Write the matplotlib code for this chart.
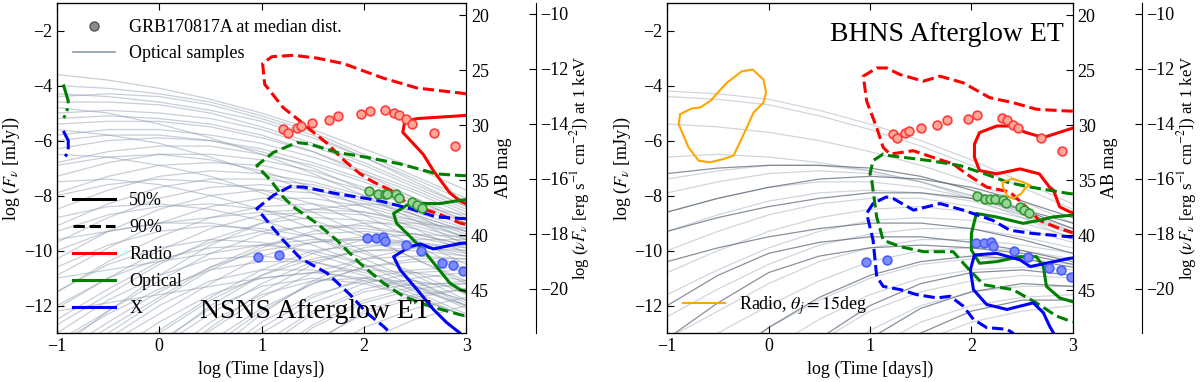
import numpy as np
import matplotlib
matplotlib.use("Agg")
import matplotlib.pyplot as plt
from matplotlib.lines import Line2D

plt.rcParams['font.family'] = 'serif'
plt.rcParams['font.serif'] = ['Liberation Serif', 'DejaVu Serif']
plt.rcParams['mathtext.fontset'] = 'stix'
plt.rcParams['font.size'] = 13

# time grid of the sample light curves, log days
t_grid = [-1, -0.5, 0, 0.5, 1, 1.5, 2, 2.5, 3]

# optical sample light curves, NSNS panel (log F_nu at t_grid)
nsns_samples = [
    [-3.6, -3.8, -4.1, -4.5, -5.0, -5.6, -6.3, -7.0, -7.8],
    [-4.0, -4.1, -4.3, -4.6, -5.1, -5.7, -6.5, -7.3, -8.1],
    [-4.3, -4.4, -4.6, -4.9, -5.3, -5.9, -6.6, -7.4, -8.2],
    [-4.6, -4.6, -4.7, -5.0, -5.5, -6.1, -6.8, -7.6, -8.4],
    [-5.0, -4.9, -5.0, -5.2, -5.6, -6.2, -6.9, -7.7, -8.5],
    [-5.4, -5.3, -5.3, -5.5, -5.9, -6.4, -7.1, -7.8, -8.6],
    [-5.8, -5.6, -5.6, -5.8, -6.1, -6.6, -7.2, -7.9, -8.7],
    [-6.3, -6.0, -5.9, -6.0, -6.3, -6.8, -7.4, -8.1, -8.8],
    [-6.8, -6.4, -6.2, -6.2, -6.5, -6.9, -7.5, -8.2, -8.9],
    [-7.3, -6.8, -6.5, -6.5, -6.7, -7.1, -7.7, -8.3, -9.0],
    [-7.9, -7.3, -6.9, -6.8, -6.9, -7.3, -7.8, -8.4, -9.1],
    [-8.5, -7.8, -7.3, -7.1, -7.2, -7.5, -8.0, -8.6, -9.2],
    [-9.1, -8.3, -7.7, -7.4, -7.4, -7.6, -8.1, -8.7, -9.3],
    [-9.7, -8.8, -8.1, -7.7, -7.6, -7.8, -8.2, -8.7, -9.3],
    [-10.3, -9.3, -8.5, -8.0, -7.8, -7.9, -8.3, -8.8, -9.4],
    [-10.9, -9.9, -9.0, -8.4, -8.1, -8.1, -8.4, -8.9, -9.5],
    [-11.5, -10.4, -9.5, -8.8, -8.4, -8.3, -8.6, -9.0, -9.5],
    [-12.1, -11.0, -10.0, -9.2, -8.7, -8.6, -8.7, -9.1, -9.6],
    [-12.7, -11.6, -10.5, -9.6, -9.0, -8.8, -8.9, -9.2, -9.7],
    [-13.3, -12.2, -11.1, -10.1, -9.4, -9.1, -9.1, -9.4, -9.8],
    [-14.0, -12.8, -11.7, -10.6, -9.8, -9.4, -9.3, -9.5, -9.9],
    [-14.6, -13.4, -12.3, -11.2, -10.2, -9.7, -9.5, -9.7, -10.0],
    [-15.0, -14.0, -12.9, -11.7, -10.7, -10.0, -9.8, -9.8, -10.1],
    [-15.0, -14.6, -13.5, -12.3, -11.2, -10.4, -10.0, -10.0, -10.2],
    [-15.0, -15.0, -14.1, -12.9, -11.7, -10.8, -10.3, -10.2, -10.3],
    [-15.0, -15.0, -14.7, -13.5, -12.2, -11.2, -10.6, -10.4, -10.4],
    [-15.0, -15.0, -15.0, -14.1, -12.8, -11.7, -11.0, -10.7, -10.6],
    [-15.0, -15.0, -15.0, -14.7, -13.4, -12.2, -11.4, -11.0, -10.8],
    [-15.0, -15.0, -15.0, -15.0, -14.0, -12.7, -11.8, -11.3, -11.1],
    [-15.0, -15.0, -15.0, -15.0, -14.6, -13.3, -12.3, -11.7, -11.4],
    [-15.0, -15.0, -15.0, -15.0, -15.0, -13.9, -12.8, -12.1, -11.7],
    [-15.0, -15.0, -15.0, -15.0, -15.0, -14.5, -13.3, -12.5, -12.0],
    [-4.8, -5.0, -5.4, -5.9, -6.5, -7.2, -8.0, -8.9, -9.8],
    [-5.6, -5.8, -6.1, -6.6, -7.2, -7.9, -8.7, -9.6, -10.5],
    [-6.5, -6.6, -6.9, -7.3, -7.9, -8.6, -9.4, -10.3, -11.2],
    [-7.5, -7.4, -7.6, -8.0, -8.5, -9.2, -10.0, -10.9, -11.8],
    [-8.8, -8.4, -8.3, -8.5, -8.9, -9.5, -10.3, -11.1, -12.0],
    [-10.0, -9.3, -9.0, -9.0, -9.3, -9.8, -10.5, -11.3, -12.1],
    [-11.5, -10.5, -9.9, -9.6, -9.7, -10.1, -10.7, -11.5, -12.3],
    [-13.0, -11.8, -10.9, -10.3, -10.2, -10.4, -10.9, -11.6, -12.4],
    [-14.5, -13.2, -12.0, -11.1, -10.7, -10.7, -11.1, -11.7, -12.4],
    [-15.0, -14.6, -13.3, -12.1, -11.3, -11.0, -11.2, -11.7, -12.4],
    [-12.2, -11.9, -11.6, -11.3, -11.0, -10.8, -10.7, -10.8, -11.1],
    [-11.0, -10.7, -10.4, -10.1, -9.8, -9.6, -9.6, -9.8, -10.2],
    [-9.6, -9.3, -9.0, -8.8, -8.6, -8.5, -8.6, -8.9, -9.3],
    [-15.0, -15.0, -15.0, -13.8, -12.3, -11.1, -10.3, -9.9, -9.8],
    [-15.0, -15.0, -14.2, -12.8, -11.5, -10.5, -9.9, -9.6, -9.6],
    [-15.0, -14.8, -13.4, -12.0, -10.9, -10.1, -9.6, -9.4, -9.5],
    [-14.3, -13.0, -11.8, -10.7, -9.9, -9.3, -9.0, -9.0, -9.2],
    [-13.6, -12.2, -10.9, -9.8, -9.0, -8.5, -8.3, -8.4, -8.7],
    [-4.4, -4.3, -4.4, -4.7, -5.2, -5.8, -6.6, -7.5, -8.4],
    [-5.2, -5.1, -5.2, -5.4, -5.8, -6.4, -7.2, -8.1, -9.0],
    [-6.0, -5.8, -5.8, -6.0, -6.4, -7.0, -7.8, -8.7, -9.6],
    [-6.9, -6.6, -6.5, -6.7, -7.1, -7.7, -8.4, -9.2, -10.1],
    [-8.0, -7.6, -7.4, -7.5, -7.8, -8.3, -9.0, -9.8, -10.7],
    [-9.3, -8.7, -8.4, -8.3, -8.5, -8.9, -9.5, -10.3, -11.1],
    [-10.6, -9.8, -9.3, -9.1, -9.2, -9.5, -10.1, -10.8, -11.6],
    [-12.0, -11.0, -10.3, -9.9, -9.8, -10.0, -10.5, -11.1, -11.9],
    [-13.4, -12.3, -11.4, -10.7, -10.4, -10.4, -10.8, -11.3, -12.0],
    [-15.0, -13.8, -12.6, -11.6, -11.0, -10.8, -11.0, -11.4, -12.0],
    [-15.0, -15.0, -14.0, -12.6, -11.6, -11.1, -11.0, -11.3, -11.8],
    [-15.0, -15.0, -15.0, -14.0, -12.6, -11.6, -11.1, -11.1, -11.4],
    [-15.0, -15.0, -15.0, -15.0, -13.6, -12.3, -11.5, -11.2, -11.2],
    [-15.0, -15.0, -15.0, -15.0, -15.0, -13.4, -12.2, -11.6, -11.4],
    [-15.0, -15.0, -15.0, -15.0, -14.2, -12.8, -11.9, -11.4, -11.2],
    [-15.0, -15.0, -15.0, -14.4, -13.0, -11.9, -11.2, -10.8, -10.7],
    [-15.0, -15.0, -14.8, -13.3, -12.1, -11.2, -10.6, -10.3, -10.3],
    [-15.0, -14.4, -13.0, -11.8, -10.9, -10.3, -10.0, -9.9, -10.0],
    [-13.8, -12.6, -11.5, -10.6, -10.0, -9.7, -9.6, -9.7, -9.9],
    [-12.5, -11.4, -10.4, -9.7, -9.3, -9.1, -9.2, -9.4, -9.8],
]

# optical sample light curves, BHNS panel
bhns_samples_light = [
    [-4.2, -4.3, -4.5, -4.9, -5.4, -6.0, -6.7, -7.5, -8.3],
    [-4.4, -4.5, -4.7, -5.1, -5.6, -6.2, -6.9, -7.7, -8.5],
    [-5.4, -5.5, -5.7, -6.0, -6.4, -6.9, -7.5, -8.2, -9.0],
    [-6.6, -6.5, -6.6, -6.8, -7.1, -7.5, -8.1, -8.8, -9.6],
    [-7.4, -7.1, -6.9, -6.9, -7.1, -7.5, -8.0, -8.7, -9.4],
    [-7.9, -7.5, -7.2, -7.1, -7.2, -7.5, -8.0, -8.6, -9.3],
    [-8.6, -8.1, -7.7, -7.5, -7.5, -7.7, -8.1, -8.6, -9.2],
    [-9.3, -8.7, -8.2, -7.9, -7.8, -7.9, -8.2, -8.7, -9.3],
    [-10.0, -9.3, -8.7, -8.3, -8.1, -8.1, -8.4, -8.8, -9.4],
    [-10.8, -10.0, -9.3, -8.8, -8.5, -8.4, -8.6, -9.0, -9.5],
    [-11.6, -10.7, -9.9, -9.3, -8.9, -8.8, -8.9, -9.2, -9.7],
    [-12.4, -11.4, -10.5, -9.8, -9.4, -9.2, -9.2, -9.5, -9.9],
    [-13.2, -12.2, -11.2, -10.4, -9.9, -9.6, -9.6, -9.8, -10.1],
    [-14.0, -13.0, -12.0, -11.1, -10.4, -10.0, -9.9, -10.0, -10.3],
    [-15.0, -13.9, -12.8, -11.8, -11.0, -10.5, -10.3, -10.3, -10.5],
    [-15.0, -14.8, -13.6, -12.5, -11.6, -11.0, -10.7, -10.6, -10.7],
    [-15.0, -15.0, -14.5, -13.3, -12.2, -11.5, -11.1, -10.9, -11.0],
    [-15.0, -15.0, -15.0, -14.1, -12.9, -12.0, -11.5, -11.3, -11.3],
    [-15.0, -15.0, -15.0, -15.0, -13.6, -12.6, -12.0, -11.7, -11.6],
    [-15.0, -15.0, -15.0, -15.0, -14.4, -13.3, -12.6, -12.2, -12.0],
]
bhns_samples_dark = [
    [-12.0, -10.9, -10.1, -9.7, -9.5, -9.5, -9.7, -10.0, -10.4],
    [-13.2, -11.9, -10.8, -10.2, -9.9, -9.8, -9.9, -10.1, -10.5],
    [-9.3, -8.8, -8.4, -8.1, -7.9, -7.9, -8.1, -8.5, -9.0],
    [-8.6, -8.1, -7.7, -7.4, -7.3, -7.4, -7.7, -8.2, -8.8],
    [-15.0, -14.2, -12.8, -11.7, -10.9, -10.4, -10.2, -10.3, -10.6],
    [-15.0, -15.0, -14.5, -13.2, -12.0, -11.2, -10.8, -10.7, -10.9],
    [-15.0, -15.0, -15.0, -14.6, -13.2, -12.1, -11.5, -11.2, -11.3],
    [-10.4, -9.9, -9.5, -9.2, -9.0, -9.0, -9.2, -9.6, -10.1],
    [-15.0, -15.0, -15.0, -15.0, -14.3, -13.0, -12.2, -11.8, -11.8],
    [-7.2, -7.0, -6.9, -6.9, -7.0, -7.3, -7.8, -8.5, -9.2],
]

# GRB170817A at median distance, NSNS panel
nsns_radio_t = [1.207, 1.256, 1.344, 1.386, 1.49, 1.66, 1.75, 1.97, 2.06, 2.21, 2.29, 2.34, 2.41, 2.47, 2.69, 2.89]
nsns_radio_f = [-5.59, -5.71, -5.53, -5.48, -5.35, -5.25, -5.10, -5.04, -4.92, -4.90, -5.01, -5.07, -5.22, -5.38, -5.71, -6.19]
nsns_opt_t = [2.045, 2.135, 2.21, 2.23, 2.315, 2.34, 2.47, 2.52, 2.57]
nsns_opt_f = [-7.84, -7.96, -7.93, -7.96, -7.96, -8.08, -8.23, -8.35, -8.44]
nsns_x_t = [0.96, 1.17, 2.035, 2.12, 2.19, 2.21, 2.41, 2.56, 2.76, 2.87, 2.97]
nsns_x_f = [-10.22, -10.17, -9.56, -9.56, -9.52, -9.65, -9.80, -10.01, -10.46, -10.54, -10.76]

# GRB170817A at median distance, BHNS panel
bhns_radio_t = [1.23, 1.263, 1.345, 1.387, 1.50, 1.663, 1.756, 1.969, 2.057, 2.297, 2.347, 2.41, 2.46, 2.69, 2.89]
bhns_radio_f = [-5.77, -5.89, -5.71, -5.65, -5.53, -5.43, -5.26, -5.22, -5.07, -5.19, -5.26, -5.43, -5.55, -5.89, -6.37]
bhns_opt_t = [2.051, 2.133, 2.18, 2.23, 2.31, 2.34, 2.48, 2.52, 2.57]
bhns_opt_f = [-8.03, -8.14, -8.11, -8.14, -8.17, -8.27, -8.41, -8.53, -8.63]
bhns_x_t = [0.96, 1.165, 2.044, 2.126, 2.19, 2.216, 2.42, 2.56, 2.77, 2.88, 2.98]
bhns_x_f = [-10.40, -10.34, -9.74, -9.71, -9.70, -9.82, -10.0, -10.22, -10.64, -10.72, -10.96]

# credible contours, NSNS panel: (t, F) pairs
nsns_radio90 = [[3.0, -4.3], [2.94, -4.27], [2.52, -4.09], [2.19, -3.73], [1.8, -3.2], [1.54, -3.0], [1.31, -2.9],
                [1.1, -2.95], [1.01, -3.2], [1.03, -3.95], [1.21, -4.8], [1.38, -5.3], [1.44, -5.5], [1.64, -6.1],
                [1.80, -6.7], [1.96, -7.2], [2.09, -7.5], [2.26, -7.8], [2.45, -8.35], [2.72, -8.65], [2.94, -9.0],
                [3.0, -9.05]]
nsns_radio50 = [[3.0, -5.08], [2.94, -5.1], [2.52, -5.2], [2.40, -5.3], [2.38, -5.7], [2.48, -6.1], [2.58, -6.5],
                [2.68, -7.1], [2.75, -7.45], [2.84, -7.9], [2.94, -8.2], [3.0, -8.3]]
nsns_opt90 = [[3.0, -7.28], [2.94, -7.27], [2.71, -7.21], [2.355, -6.85], [2.03, -6.61], [1.735, -6.43],
              [1.474, -6.13], [1.344, -6.07], [1.116, -6.43], [0.953, -6.91], [1.1, -7.5], [1.21, -8.05],
              [1.31, -8.41], [1.54, -9.01], [1.735, -9.62], [1.96, -10.46], [2.19, -11.18], [2.385, -11.66],
              [2.65, -12.03], [2.94, -12.33], [3.0, -12.38]]
nsns_opt50 = [[3.0, -8.15], [2.94, -8.17], [2.745, -8.29], [2.58, -8.29], [2.42, -8.35], [2.29, -8.65],
              [2.32, -9.01], [2.42, -9.37], [2.58, -9.98], [2.71, -10.58], [2.84, -11.18], [2.94, -11.42],
              [3.0, -11.5]]
nsns_x90 = [[3.0, -8.84], [2.94, -8.83], [2.71, -8.78], [2.45, -8.47], [2.13, -8.17], [1.735, -7.93],
            [1.41, -7.69], [1.28, -7.67], [1.116, -7.99], [0.953, -8.47], [1.21, -9.62], [1.38, -10.28],
            [1.64, -10.82], [1.865, -11.6], [2.03, -12.27], [2.19, -12.75], [2.26, -13.0], [2.3, -13.2]]
nsns_x50 = [[3.0, -9.72], [2.94, -9.74], [2.68, -9.94], [2.55, -9.76], [2.45, -9.86], [2.29, -10.22],
            [2.355, -10.7], [2.52, -11.42], [2.68, -12.14], [2.81, -12.62], [2.94, -13.0], [2.97, -13.2]]
nsns_opt_edge = [[-0.938, -3.96], [-0.89, -4.56], [-0.906, -5.04], [-0.938, -5.17]]
nsns_x_edge = [[-0.938, -5.65], [-0.89, -6.0], [-0.89, -6.37], [-0.938, -6.73]]

# credible contours, BHNS panel
bhns_radio90 = [[3.0, -4.93], [2.92, -4.92], [2.64, -4.86], [2.41, -4.62], [2.18, -4.44], [1.92, -3.90],
                [1.69, -3.66], [1.526, -3.84], [1.296, -3.60], [1.164, -3.36], [1.066, -3.36], [0.934, -3.66],
                [0.967, -4.56], [1.066, -5.53], [1.13, -6.25], [1.197, -6.49], [1.426, -6.37], [1.62, -6.61],
                [1.82, -6.85], [1.95, -7.21], [2.15, -7.69], [2.38, -7.87], [2.54, -8.41], [2.67, -8.90],
                [2.87, -9.20], [3.0, -9.35]]
bhns_radio50 = [[3.0, -5.55], [2.97, -5.58], [2.71, -5.89], [2.54, -5.71], [2.38, -5.47], [2.25, -5.47],
                [2.08, -5.71], [2.03, -6.13], [2.03, -6.61], [2.08, -7.09], [2.25, -7.21], [2.48, -7.03],
                [2.67, -7.21], [2.77, -7.69], [2.81, -7.81], [2.87, -8.41], [2.97, -8.59], [3.0, -8.62]]
bhns_opt90 = [[3.0, -7.94], [2.97, -7.93], [2.58, -7.69], [2.35, -7.51], [2.18, -7.27], [1.89, -6.91],
              [1.59, -6.73], [1.197, -6.55], [1.13, -6.49], [1.03, -6.73], [1.0, -7.21], [1.017, -7.45],
              [1.066, -8.78], [1.13, -9.62], [1.30, -9.86], [1.53, -10.04], [1.82, -10.04], [1.95, -10.58],
              [2.12, -11.24], [2.41, -11.42], [2.64, -11.90], [2.84, -12.38], [3.0, -12.6]]
bhns_opt50 = [[3.0, -8.71], [2.97, -8.72], [2.80, -8.78], [2.67, -8.90], [2.51, -9.01], [2.25, -8.78],
              [2.05, -8.65], [2.0, -9.37], [2.0, -9.98], [2.08, -10.46], [2.25, -10.40], [2.48, -10.22],
              [2.64, -10.22], [2.71, -10.58], [2.74, -11.30], [2.87, -11.72], [3.0, -11.86]]
bhns_x90 = [[3.0, -9.5], [2.97, -9.50], [2.80, -9.44], [2.61, -9.38], [2.38, -9.26], [2.21, -8.90],
            [1.92, -8.53], [1.69, -8.29], [1.43, -8.53], [1.23, -8.11], [1.16, -8.05], [1.03, -8.29],
            [0.967, -8.65], [1.03, -9.62], [1.066, -10.94], [1.13, -11.30], [1.30, -11.42], [1.46, -11.60],
            [1.66, -11.72], [1.79, -11.66], [1.92, -12.02], [2.02, -12.50], [2.15, -12.80], [2.35, -12.86],
            [2.41, -13.0], [2.43, -13.2]]
bhns_x50 = [[3.0, -10.27], [2.97, -10.28], [2.74, -10.46], [2.58, -10.58], [2.48, -10.34], [2.25, -10.10],
            [2.03, -10.16], [1.99, -10.70], [2.02, -11.42], [2.15, -11.96], [2.35, -12.14], [2.61, -11.90],
            [2.71, -12.26], [2.77, -12.74], [2.81, -13.0], [2.83, -13.2]]
# radio, theta_j = 15 deg
bhns_jet15_a = [[-0.872, -5.04], [-0.757, -4.83], [-0.675, -4.80], [-0.576, -4.56], [-0.412, -3.90],
                [-0.264, -3.48], [-0.156, -3.42], [-0.051, -3.78], [-0.025, -4.26], [-0.051, -4.62],
                [-0.149, -4.98], [-0.215, -5.53], [-0.346, -6.55], [-0.445, -6.67], [-0.576, -6.79],
                [-0.69, -6.73], [-0.79, -6.25], [-0.887, -5.40], [-0.872, -5.04]]
bhns_jet15_b = [[2.31, -7.51], [2.40, -7.39], [2.51, -7.51], [2.58, -7.63], [2.54, -7.69], [2.49, -7.93],
                [2.41, -8.11], [2.35, -7.99], [2.31, -7.69], [2.31, -7.51]]

# conversions for the right hand axes
ab_zero = 16.4      # AB = ab_zero - 2.5 log F[mJy]
kev_shift = -8.617  # log(nu F_nu) at 1 keV = log F[mJy] + kev_shift
ylo, yhi = -13, -1


def curve(ax, pts, color, ls, lw=2.2):
    pts = np.array(pts)
    ax.plot(pts[:, 0], pts[:, 1], color=color, ls=ls, lw=lw, zorder=3)


def points(ax, t, f, edge, face):
    ax.plot(t, f, 'o', ms=6.3, mec=edge, mfc=face, mew=1.2, zorder=5)


def side_axes(ax):
    ax.set_xlim(-1, 3)
    ax.set_ylim(ylo, yhi)
    ax.set_xticks([-1, 0, 1, 2, 3])
    ax.set_yticks([-12, -10, -8, -6, -4, -2])
    ax.tick_params(direction='in', top=True, right=False, length=5, labelsize=13)
    ax.set_xlabel('log (Time [days])', fontsize=13)
    ax.set_ylabel(r'log ($F_\nu$ [mJy])', fontsize=13, labelpad=1)
    ab = ax.twinx()
    ab.set_ylim(ab_zero - 2.5 * ylo, ab_zero - 2.5 * yhi)
    ab.set_yticks([20, 25, 30, 35, 40, 45])
    ab.tick_params(direction='in', length=5, labelsize=13)
    ab.set_ylabel('AB mag', fontsize=13)
    xr = ax.twinx()
    xr.spines['right'].set_position(('outward', 50))
    xr.set_ylim(ylo + kev_shift, yhi + kev_shift)
    xr.set_yticks([-20, -18, -16, -14, -12, -10])
    xr.tick_params(direction='in', length=5, labelsize=13, pad=3)
    xr.set_ylabel(r'log ($\nu F_\nu$ [erg s$^{-1}$ cm$^{-2}$]) at 1 keV', fontsize=12, labelpad=0)


fig = plt.figure(figsize=(12, 3.82), dpi=100)
ax1 = fig.add_axes([0.0475, 0.128, 0.341, 0.864])
ax2 = fig.add_axes([0.556, 0.128, 0.338, 0.864])

# ---- NSNS ----
for s in nsns_samples:
    ax1.plot(t_grid, s, color='#8794a8', lw=0.9, alpha=0.45, zorder=1)
curve(ax1, nsns_radio90, 'red', '--')
curve(ax1, nsns_radio50, 'red', '-')
curve(ax1, nsns_opt90, 'green', '--')
curve(ax1, nsns_opt50, 'green', '-')
curve(ax1, nsns_x90, 'blue', '--')
curve(ax1, nsns_x50, 'blue', '-')
curve(ax1, nsns_opt_edge, 'green', '-.')
curve(ax1, nsns_x_edge, 'blue', '-.')
points(ax1, nsns_radio_t, nsns_radio_f, '#ff3b3b', '#ffa898')
points(ax1, nsns_opt_t, nsns_opt_f, '#2f9a2f', '#9ad49a')
points(ax1, nsns_x_t, nsns_x_f, '#4a5cff', '#7d8cff')
ax1.text(0.40, -12.2, 'NSNS Afterglow ET', fontsize=20, va='center', ha='left', zorder=6)

h_top = [Line2D([], [], ls='', marker='o', ms=6.5, mfc='#8a8a8a', mec='#555555'),
         Line2D([], [], color='#8c99ab', lw=1.2)]
leg1 = ax1.legend(h_top, ['GRB170817A at median dist.', 'Optical samples'], loc='upper left',
                  frameon=False, fontsize=13, handlelength=2.3)
ax1.add_artist(leg1)
h_bot = [Line2D([], [], color='k', lw=2.2), Line2D([], [], color='k', lw=2.2, ls='--'),
         Line2D([], [], color='red', lw=2.2), Line2D([], [], color='green', lw=2.2),
         Line2D([], [], color='blue', lw=2.2)]
ax1.legend(h_bot, ['50%', '90%', 'Radio', 'Optical', 'X'], loc='lower left', frameon=False,
           fontsize=13, handlelength=2.3, labelspacing=0.55)
side_axes(ax1)

# ---- BHNS ----
for s in bhns_samples_light:
    ax2.plot(t_grid, s, color='#a3adbb', lw=0.9, alpha=0.5, zorder=1)
for s in bhns_samples_dark:
    ax2.plot(t_grid, s, color='#56616f', lw=0.9, alpha=0.7, zorder=1)
curve(ax2, bhns_radio90, 'red', '--')
curve(ax2, bhns_radio50, 'red', '-')
curve(ax2, bhns_opt90, 'green', '--')
curve(ax2, bhns_opt50, 'green', '-')
curve(ax2, bhns_x90, 'blue', '--')
curve(ax2, bhns_x50, 'blue', '-')
curve(ax2, bhns_jet15_a, 'orange', '-', lw=1.5)
curve(ax2, bhns_jet15_b, 'orange', '-', lw=1.5)
points(ax2, bhns_radio_t, bhns_radio_f, '#ff3b3b', '#ffa898')
points(ax2, bhns_opt_t, bhns_opt_f, '#2f9a2f', '#9ad49a')
points(ax2, bhns_x_t, bhns_x_f, '#4a5cff', '#7d8cff')
ax2.text(0.606, -2.15, 'BHNS Afterglow ET', fontsize=20, va='center', ha='left', zorder=6)
ax2.legend([Line2D([], [], color='orange', lw=1.5)], [r'Radio, $\theta_j = 15$deg'], loc='lower left',
           frameon=False, fontsize=13, handlelength=2.3)
side_axes(ax2)

fig.savefig('out.png', dpi=100)
